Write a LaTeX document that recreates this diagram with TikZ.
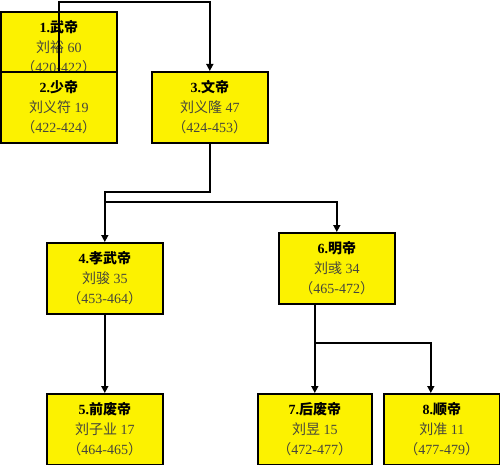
\documentclass[tikz,border=0pt]{standalone}
\usepackage{fontspec}
\setmainfont{Liberation Serif}
\newfontfamily\cjk{Noto Sans CJK SC}
\usetikzlibrary{arrows.meta}
\definecolor{boxyellow}{RGB}{252,242,0}
\definecolor{txtgray}{RGB}{70,70,60}
\newcommand{\Emp}[5]{\textbf{#1.{\cjk\bfseries #2}}\\{\color{txtgray}{\cjk #3} #4}\\{\color{txtgray}{\cjk （}#5{\cjk ）}}}
\begin{document}
\begin{tikzpicture}[x=1pt,y=-1pt,
  box/.style={draw=black, line width=1.6pt, fill=boxyellow, minimum width=116pt,
    minimum height=71pt, inner sep=0pt, anchor=north west, align=center,
    font=\fontsize{14}{20}\selectfont},
  link/.style={line width=1.5pt, draw=black},
  arr/.style={link, -{Triangle[length=7pt,width=7pt]}}]
\useasboundingbox (0,0) rectangle (500,465);
\fill[white] (0,0) rectangle (500,465);
\node[box] (b1) at (0,11) {\Emp{1}{武帝}{刘裕}{60}{420-422}};
\node[box] (b2) at (0,71) {\Emp{2}{少帝}{刘义符}{19}{422-424}};
\node[box] (b3) at (151,71) {\Emp{3}{文帝}{刘义隆}{47}{424-453}};
\node[box] (b4) at (46,242) {\Emp{4}{孝武帝}{刘骏}{35}{453-464}};
\node[box] (b5) at (46,393) {\Emp{5}{前废帝}{刘子业}{17}{464-465}};
\node[box] (b6) at (278,232) {\Emp{6}{明帝}{刘彧}{34}{465-472}};
\node[box, minimum width=114pt] (b7) at (257,393) {\Emp{7}{后废帝}{刘昱}{15}{472-477}};
\node[box] (b8) at (383,393) {\Emp{8}{顺帝}{刘准}{11}{477-479}};
\coordinate (top) at (0,2);
\coordinate (j3) at (0,192);
\coordinate (j4) at (0,202);
\coordinate (j6) at (0,343);
\draw[arr] (b2.north) -- (b2.north |- top) -| (b3.north);
\draw[arr] (b3.south) |- (b4.north |- j3) -- (b4.north);
\draw[arr] (b4.north |- j4) -| (b6.north);
\draw[arr] (b4.south) -- (b5.north);
\draw[arr] (b7.north |- b6.south) -- (b7.north);
\draw[arr] (b7.north |- j6) -| ([xshift=-11pt]b8.north);
\end{tikzpicture}
\end{document}
